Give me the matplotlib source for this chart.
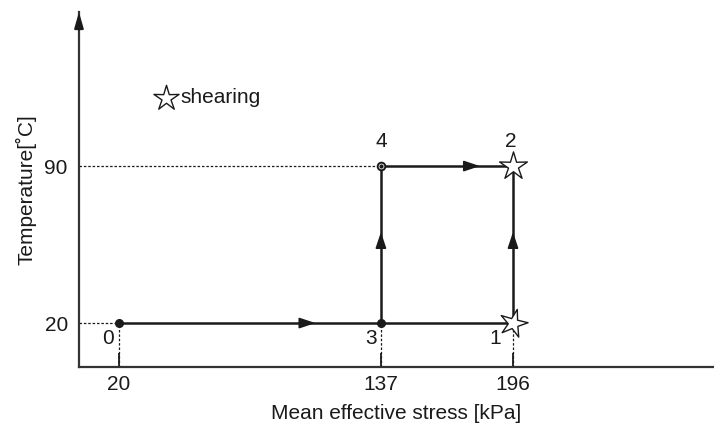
import matplotlib
matplotlib.use("Agg")
import matplotlib.pyplot as plt
from matplotlib.markers import MarkerStyle
from matplotlib.path import Path
from matplotlib.transforms import Affine2D

plt.rcParams["font.family"] = ["Liberation Sans", "DejaVu Sans"]

# Stress path states: mean effective stress [kPa] and temperature [°C]
state_labels = ["0", "1", "2", "3", "4"]
stress = [20, 196, 196, 137, 137]
temperature = [20, 20, 90, 20, 90]

# Path segments (from state, to state)
segments = [("0", "3"), ("3", "1"), ("1", "2"), ("3", "4"), ("4", "2")]
arrow_segments = [("0", "3"), ("3", "4"), ("4", "2"), ("1", "2")]

x_ticks = [20, 137, 196]
y_ticks = [20, 90]

pt = {k: (x, y) for k, x, y in zip(state_labels, stress, temperature)}

ink = "#1a1a1a"
fs = 15

# slender five-pointed star outline
star_path = Path.unit_regular_star(5, 0.36)

fig = plt.figure(figsize=(7.14, 4.29), dpi=100)
ax = fig.add_axes([0.1106, 0.1445, 0.8894, 0.8275])
ax.set_xlim(2.1, 285.8)
ax.set_ylim(0.4, 158.7)

for side in ("top", "right"):
    ax.spines[side].set_visible(False)
for side in ("left", "bottom"):
    ax.spines[side].set_linewidth(1.6)
    ax.spines[side].set_color("#333333")

# arrow head on the temperature axis
ax.annotate("", xy=(0, 1.0), xytext=(0, 0.95), xycoords="axes fraction",
            arrowprops=dict(arrowstyle="-|>,head_length=0.7,head_width=0.2",
                            color=ink, lw=1.4, mutation_scale=14,
                            shrinkA=0, shrinkB=0))

ax.set_xticks(x_ticks)
ax.set_xticklabels([str(v) for v in x_ticks])
ax.set_yticks(y_ticks)
ax.set_yticklabels([str(v) for v in y_ticks])
ax.tick_params(axis="x", direction="in", length=10, width=1.3, color=ink,
               labelsize=fs, labelcolor=ink, pad=6)
ax.tick_params(axis="y", direction="in", length=0, labelsize=fs,
               labelcolor=ink, pad=8)

ax.set_xlabel("Mean effective stress [kPa]", fontsize=fs, color=ink, labelpad=7)
ax.set_ylabel("Temperature[˚C]", fontsize=fs, color=ink, labelpad=6)

# dotted guide lines
ylo, xlo = ax.get_ylim()[0], ax.get_xlim()[0]
for k in ["0", "3", "1"]:
    x, y = pt[k]
    ax.plot([x, x], [ylo, y], ls=(0, (2, 1.5)), lw=0.9, color=ink, zorder=1)
for k in ["0", "4"]:
    x, y = pt[k]
    ax.plot([xlo, x], [y, y], ls=(0, (2, 1.5)), lw=0.9, color=ink, zorder=1)

# solid path segments
for a, b in segments:
    (x0, y0), (x1, y1) = pt[a], pt[b]
    ax.plot([x0, x1], [y0, y1], color=ink, lw=1.8, solid_capstyle="butt", zorder=2)

# direction arrows along the path
for a, b in arrow_segments:
    (x0, y0), (x1, y1) = pt[a], pt[b]
    f = 0.75 if (a, b) in [("0", "3"), ("4", "2")] else 0.58
    xm, ym = x0 + f * (x1 - x0), y0 + f * (y1 - y0)
    xs, ys = x0 + (f - 0.06) * (x1 - x0), y0 + (f - 0.06) * (y1 - y0)
    ax.annotate("", xy=(xm, ym), xytext=(xs, ys),
                arrowprops=dict(arrowstyle="-|>,head_length=0.75,head_width=0.25",
                                color=ink, lw=1.2, mutation_scale=13,
                                shrinkA=0, shrinkB=0),
                zorder=3)

# state points
ax.plot(*pt["0"], "o", ms=5.5, color=ink, zorder=4)
ax.plot(*pt["3"], "o", ms=5.5, color=ink, zorder=4)
ax.plot(*pt["4"], "o", ms=5.5, mfc="white", mec=ink, mew=1.4, zorder=4)
ax.plot(*pt["4"], "o", ms=2, color=ink, zorder=5)

# shearing stars
star_tilted = MarkerStyle(star_path, transform=Affine2D().rotate_deg(-15))
ax.plot(*pt["1"], marker=star_tilted, ms=21, mfc="white", mec=ink, mew=1.0, zorder=5)
ax.plot(*pt["2"], marker=star_path, ms=21, mfc="white", mec=ink, mew=1.0, zorder=5)

# state labels
offsets = {"0": (-5, -7), "3": (-4.5, -7), "1": (-8, -7), "4": (0, 11), "2": (-1, 11)}
for k in state_labels:
    x, y = pt[k]
    dx, dy = offsets[k]
    ax.text(x + dx, y + dy, k, fontsize=fs, color=ink, ha="center", va="center")

# legend entry for shearing
lx, ly = 41, 120.5
ax.plot(lx, ly, marker=star_path, ms=19, mfc="white", mec=ink, mew=1.0, zorder=5)
ax.text(lx + 6.3, ly + 0.3, "shearing", fontsize=fs, color=ink, va="center", ha="left")

fig.savefig("out.png", dpi=100)
